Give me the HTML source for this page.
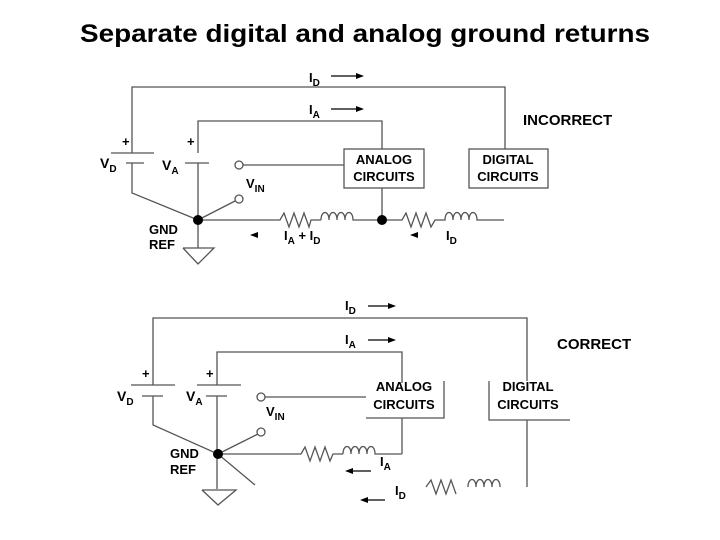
<!DOCTYPE html>
<html><head><style>
html,body{margin:0;padding:0;background:#fff;}
svg{display:block;}
</style></head><body>
<svg width="720" height="540" xmlns="http://www.w3.org/2000/svg" font-family="Liberation Sans, Arial, sans-serif">
<text x="80" y="42" font-size="25" font-weight="bold" fill="#000" textLength="570" lengthAdjust="spacingAndGlyphs">Separate digital and analog ground returns</text>

<g stroke="#555" stroke-width="1.3" fill="none">
<!-- TOP -->
<polyline points="132,153 132,87 505,87 505,149"/>
<polyline points="198,153 198,121 382,121 382,149"/>
<line x1="111" y1="153" x2="154" y2="153"/>
<line x1="126" y1="163" x2="144" y2="163"/>
<polyline points="132,163 132,193 198,220"/>
<line x1="185" y1="163" x2="209" y2="163"/>
<line x1="198" y1="163" x2="198" y2="248"/>
<circle cx="239" cy="165" r="4"/>
<circle cx="239" cy="199" r="4"/>
<line x1="243" y1="165" x2="344" y2="165"/>
<line x1="235" y1="201" x2="198" y2="220"/>
<rect x="344" y="149" width="80" height="39"/>
<rect x="469" y="149" width="79" height="39"/>
<line x1="382" y1="188" x2="382" y2="220"/>
<polyline points="198,220 280,220 284,213 289,227 294,213 299,227 304,213 309,227 311,220 321,220"/>
<path d="M321,220 c0,-10 8,-10 8,0 c0,-10 8,-10 8,0 c0,-10 8,-10 8,0 c0,-10 8,-10 8,0 L402,220 406,213 411,227 416,213 421,227 426,213 431,227 435,220 445,220 c0,-10 8,-10 8,0 c0,-10 8,-10 8,0 c0,-10 8,-10 8,0 c0,-10 8,-10 8,0 L504,220"/>
<polyline points="183,248 214,248 198,264 183,248"/>
<!-- BOTTOM -->
<polyline points="153,385 153,318 527,318 527,381"/>
<line x1="527" y1="420" x2="527" y2="487"/>
<polyline points="217,385 217,352 402,352 402,383"/>
<line x1="402" y1="418" x2="402" y2="454"/>
<line x1="131" y1="385" x2="175" y2="385"/>
<line x1="142" y1="396" x2="163" y2="396"/>
<polyline points="153,396 153,425 218,454 255,485"/>
<line x1="197" y1="385" x2="241" y2="385"/>
<line x1="206" y1="396" x2="227" y2="396"/>
<line x1="217" y1="396" x2="217" y2="489"/>
<circle cx="261" cy="397" r="4"/>
<circle cx="261" cy="432" r="4"/>
<line x1="265" y1="397" x2="366" y2="397"/>
<line x1="258" y1="434" x2="218" y2="454"/>
<polyline points="444,381 444,418 366,418"/>
<polyline points="489,381 489,420 570,420"/>
<polyline points="218,454 301,454 305,447 310,461 315,447 320,461 325,447 330,461 333,454 343,454"/>
<path d="M343,454 c0,-10 8,-10 8,0 c0,-10 8,-10 8,0 c0,-10 8,-10 8,0 c0,-10 8,-10 8,0 L402,454"/>
<polyline points="426,487 431,480 436,494 441,480 446,494 451,480 456,494"/>
<path d="M468,487 c0,-10 8,-10 8,0 c0,-10 8,-10 8,0 c0,-10 8,-10 8,0 c0,-10 8,-10 8,0"/>
<polyline points="202,490 236,490 218,505 202,490"/>
</g>
<g stroke="#000" stroke-width="1.3">
<line x1="331" y1="76" x2="360" y2="76"/><line x1="331" y1="109" x2="360" y2="109"/>
<line x1="368" y1="306" x2="392" y2="306"/><line x1="368" y1="340" x2="392" y2="340"/>
<line x1="350" y1="471" x2="371" y2="471"/><line x1="365" y1="500" x2="385" y2="500"/>
</g>
<g fill="#000">
<polygon points="364,76 356,73 356,79"/><polygon points="364,109 356,106 356,112"/>
<polygon points="396,306 388,303 388,309"/><polygon points="396,340 388,337 388,343"/>
<polygon points="345,471 353,468 353,474"/><polygon points="360,500 368,497 368,503"/>
<polygon points="250,235 258,232 258,238"/><polygon points="410,235 418,232 418,238"/>
<circle cx="198" cy="220" r="5"/><circle cx="382" cy="220" r="5"/><circle cx="218" cy="454" r="5"/>
</g>
<g font-size="13" font-weight="bold" fill="#000">
<text x="309" y="82">I<tspan font-size="10" dy="4">D</tspan></text>
<text x="309" y="114">I<tspan font-size="10" dy="4">A</tspan></text>
<text x="523" y="125" font-size="15">INCORRECT</text>
<text x="122" y="146">+</text><text x="187" y="146">+</text>
<text x="100" y="168" font-size="14">V<tspan font-size="10" dy="4">D</tspan></text>
<text x="162" y="170" font-size="14">V<tspan font-size="10" dy="4">A</tspan></text>
<text x="246" y="188">V<tspan font-size="10" dy="4">IN</tspan></text>
<text x="384" y="164" text-anchor="middle">ANALOG</text>
<text x="384" y="181" text-anchor="middle">CIRCUITS</text>
<text x="508" y="164" text-anchor="middle">DIGITAL</text>
<text x="508" y="181" text-anchor="middle">CIRCUITS</text>
<text x="284" y="240">I<tspan font-size="10" dy="4">A</tspan><tspan dy="-4"> + I</tspan><tspan font-size="10" dy="4">D</tspan></text>
<text x="446" y="240">I<tspan font-size="10" dy="4">D</tspan></text>
<text x="149" y="234">GND</text><text x="149" y="249">REF</text>
<text x="345" y="310">I<tspan font-size="10" dy="4">D</tspan></text>
<text x="345" y="344">I<tspan font-size="10" dy="4">A</tspan></text>
<text x="557" y="349" font-size="15">CORRECT</text>
<text x="142" y="378">+</text><text x="206" y="378">+</text>
<text x="117" y="401" font-size="14">V<tspan font-size="10" dy="4">D</tspan></text>
<text x="186" y="401" font-size="14">V<tspan font-size="10" dy="4">A</tspan></text>
<text x="266" y="416">V<tspan font-size="10" dy="4">IN</tspan></text>
<text x="404" y="391" text-anchor="middle">ANALOG</text>
<text x="404" y="409" text-anchor="middle">CIRCUITS</text>
<text x="528" y="391" text-anchor="middle">DIGITAL</text>
<text x="528" y="409" text-anchor="middle">CIRCUITS</text>
<text x="380" y="466">I<tspan font-size="10" dy="4">A</tspan></text>
<text x="395" y="495">I<tspan font-size="10" dy="4">D</tspan></text>
<text x="170" y="458">GND</text><text x="170" y="474">REF</text>
</g>
</svg>
</body></html>
